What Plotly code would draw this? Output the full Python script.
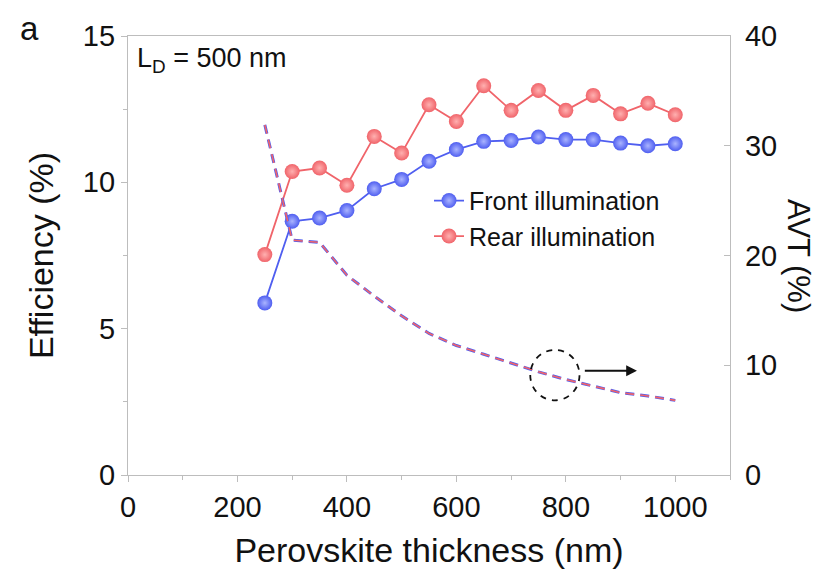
import plotly.graph_objects as go

thickness = [250, 300, 350, 400, 450, 500, 550, 600, 650, 700, 750, 800, 850, 900, 950, 1000]
eff_front = [5.88, 8.67, 8.78, 9.04, 9.78, 10.1, 10.72, 11.12, 11.4, 11.43, 11.55, 11.46, 11.46, 11.34, 11.25, 11.32]
eff_rear = [7.53, 10.37, 10.49, 9.9, 11.57, 11.0, 12.65, 12.08, 13.3, 12.46, 13.14, 12.46, 12.97, 12.34, 12.7, 12.31]
avt = [31.9, 21.4, 21.2, 18.2, 16.3, 14.5, 12.9, 11.8, 11.0, 10.2, 9.4, 8.7, 8.1, 7.5, 7.2, 6.8]

BLUE = "#4f5ef0"
RED = "#f0646a"
FONT = "Liberation Sans, Arial, sans-serif"

fig = go.Figure()

fig.add_trace(go.Scatter(x=thickness, y=avt, yaxis="y2", mode="lines",
                         line=dict(color=BLUE, width=3, dash="9px,6px"), showlegend=False))
fig.add_trace(go.Scatter(x=thickness, y=avt, yaxis="y2", mode="lines",
                         line=dict(color=RED, width=1.6, dash="9px,6px"), showlegend=False))

fig.add_trace(go.Scatter(x=thickness, y=eff_front, mode="lines+markers", name="Front illumination",
                         line=dict(color=BLUE, width=1.8),
                         marker=dict(size=15, color=BLUE, line=dict(width=0),
                                     gradient=dict(type="radial", color="#aab4ff"))))
fig.add_trace(go.Scatter(x=thickness, y=eff_rear, mode="lines+markers", name="Rear illumination",
                         line=dict(color=RED, width=1.8),
                         marker=dict(size=15, color=RED, line=dict(width=0),
                                     gradient=dict(type="radial", color="#ffb0b0"))))

axis_common = dict(showgrid=False, zeroline=False, showline=True, linecolor="#bdbdbd", linewidth=1.2,
                   tickcolor="#bdbdbd", ticklen=6, tickwidth=1.2,
                   tickfont=dict(family=FONT, size=29, color="#111"))

fig.update_layout(
    width=825, height=577,
    margin=dict(l=128, r=95, t=36, b=102),
    paper_bgcolor="white", plot_bgcolor="white",
    font=dict(family=FONT, color="#111"),
    xaxis=dict(range=[0, 1100], tickvals=[0, 200, 400, 600, 800, 1000], ticks="outside", mirror=True,
               minor=dict(dtick=100, ticklen=4, tickcolor="#bdbdbd", ticks="outside"),
               title=dict(text="Perovskite thickness (nm)", font=dict(family=FONT, size=34), standoff=16),
               **axis_common),
    yaxis=dict(range=[0, 15], tickvals=[0, 5, 10, 15], ticks="outside",
               minor=dict(dtick=2.5, ticklen=4, tickcolor="#bdbdbd", ticks="outside"),
               title=dict(text="Efficiency (%)", font=dict(family=FONT, size=34), standoff=18),
               **axis_common),
    yaxis2=dict(range=[0, 40], tickvals=[0, 10, 20, 30, 40], overlaying="y", side="right", ticks="inside",
                ticklabelstandoff=8, **axis_common),
    legend=dict(x=0.5, y=0.677, xanchor="left", yanchor="top", bgcolor="rgba(0,0,0,0)",
                font=dict(family=FONT, size=25, color="#111"), tracegroupgap=0, itemwidth=30),
    showlegend=True,
)

fig.add_annotation(text="AVT (%)", xref="paper", yref="paper", x=1.0, y=0.5, xshift=88,
                   textangle=90, showarrow=False, font=dict(family=FONT, size=31, color="#111"))
fig.add_annotation(text="a", xref="paper", yref="paper", x=0, y=1, xshift=-99, yshift=8,
                   xanchor="center", yanchor="middle", showarrow=False,
                   font=dict(family=FONT, size=33, color="#111"))
fig.add_annotation(text="L<sub>D</sub> = 500 nm", xref="paper", yref="paper", x=0, y=1, xshift=7, yshift=-5,
                   xanchor="left", yanchor="top", showarrow=False,
                   font=dict(family=FONT, size=27, color="#111"))

# dashed circle and arrow pointing to right axis
fig.add_shape(type="circle", xref="x", yref="y2", x0=735, x1=825, y0=6.8, y1=11.4,
              line=dict(color="#111", width=1.8, dash="6px,6px"))
fig.add_annotation(x=930, y=9.5, ax=832, ay=9.5, xref="x", yref="y2", axref="x", ayref="y2",
                   text="", showarrow=True, arrowhead=2, arrowsize=1.2, arrowwidth=1.8, arrowcolor="#111")

fig.write_html("out.html")
